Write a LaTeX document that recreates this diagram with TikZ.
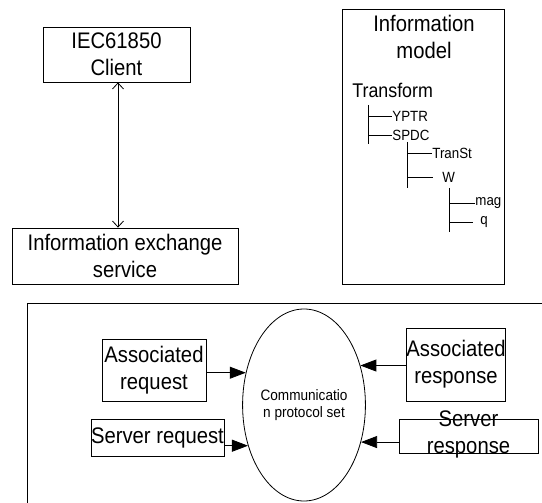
\documentclass[tikz,border=0pt]{standalone}
\usepackage{fontspec}
\setmainfont{Liberation Sans}[FakeStretch=0.9]
\usetikzlibrary{arrows.meta,shapes.geometric}

\begin{document}
\begin{tikzpicture}[x=1bp, y=-1bp, line width=0.8bp]
        \tikzstyle{box}=[draw,rectangle,inner sep=0pt,align=center,font=\fontsize{22.5bp}{27bp}\selectfont]
        \tikzstyle{leaf}=[inner sep=0pt,anchor=west,font=\fontsize{14.8bp}{16bp}\selectfont]
        \tikzstyle{pushed}=[-{Triangle[length=16bp,width=12bp]}]
        \tikzstyle{both}=[{Straight Barb[length=6bp,width=11bp]}-{Straight Barb[length=6bp,width=11bp]}]

        \useasboundingbox (0,0) rectangle (542,503);
        \clip (0,0) rectangle (542,503);

        % client and service
        \node[box,minimum width=147bp,minimum height=55bp] (C_1) at (116.5,54.5) {IEC61850\\Client};
        \node[box,minimum width=226bp,minimum height=56bp] (S_1) at (125,256) {Information exchange\\service};
        \draw[both] ([xshift=1.5bp]C_1.south) -- ([xshift=1.5bp]C_1.south |- S_1.north);

        % information model
        \node[box,minimum width=162bp,minimum height=275bp] (M_1) at (423,146.5) {};
        \node[box,draw=none] (M_title) at (424,37) {Information\\model};
        \node[leaf,font=\fontsize{19.8bp}{20bp}\selectfont] (T_0) at (352,90) {Transform};
        \node[leaf] (T_1) at (392,116) {YPTR};
        \node[leaf] (T_2) at (392,135) {SPDC};
        \node[leaf] (T_3) at (432,153) {TranSt};
        \node[leaf] (T_4) at (442,177) {W};
        \node[leaf] (T_5) at (475,203) {mag};
        \node[leaf] (T_6) at (480,222) {q};

        \coordinate (V_1) at (368,105);
        \coordinate (V_2) at (407,142);
        \coordinate (V_3) at (449,188);
        \draw (V_1) -- ++(0,39);
        \draw (V_2) -- ++(0,46);
        \draw (V_3) -- ++(0,44);
        \draw (V_1 |- T_1) -- (T_1.west);
        \draw (V_1 |- T_2) -- (T_2.west);
        \draw (V_2 |- T_3) -- (T_3.west);
        \draw (V_2 |- T_4) -- ([xshift=-9bp]T_4.west);
        \draw (V_3 |- T_5) -- (T_5.west);
        \draw (V_3 |- T_6) -- ([xshift=-7bp]T_6.west);

        % protocol set
        \draw (27,510) |- (550,303);
        \node[ellipse,draw,inner sep=0pt,minimum width=108bp,minimum height=192bp,align=center,font=\fontsize{15.1bp}{17bp}\selectfont] (P_1) at (304,405) {Communicatio\\n protocol set};
        \node[box,minimum width=104bp,minimum height=62bp] (A_req) at (154,370) {Associated\\request};
        \node[box,minimum width=129bp,minimum height=37bp] (S_req) at (157.5,437.5) {Server request};
        \node[box,minimum width=96bp,minimum height=73bp] (A_resp) at (456,364.5) {Associated\\response};
        \node[box,minimum width=139bp,minimum height=34bp,label={[align=center,inner sep=0pt,yshift=2bp,font=\fontsize{22.5bp}{27bp}\selectfont]center:Server\\response}] (S_resp) at (468.5,436) {};

        \draw[pushed] (A_req.east |- P_1.151.5) -- (P_1.151.5);
        \draw[pushed] (S_req.east |- P_1.216.6) -- (P_1.216.6);
        \draw[pushed] (A_resp.west |- P_1.35.7) -- (P_1.35.7);
        \draw[pushed] (S_resp.west |- P_1.327.8) -- (P_1.327.8);
\end{tikzpicture}
\end{document}
